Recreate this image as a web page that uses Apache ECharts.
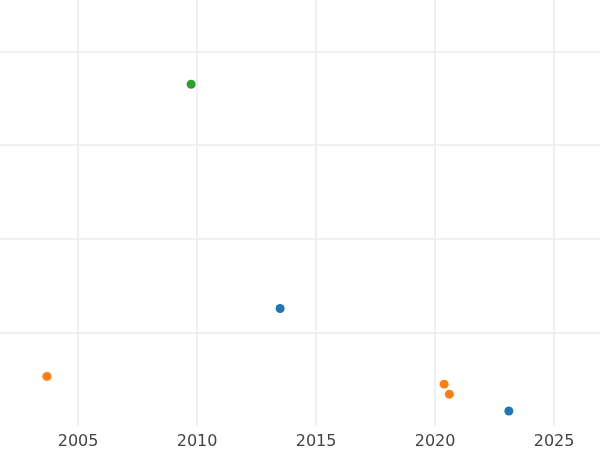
<!DOCTYPE html>
<html><head><meta charset="utf-8">
<script src="https://cdn.jsdelivr.net/npm/echarts@6/dist/echarts.min.js"></script>
<style>html,body{margin:0;padding:0;background:#fff}#c{width:600px;height:450px}</style>
</head><body><div id="c"></div>
<script>
const blueX=[2013.49,2023.1], blueY=[1.255,0.16];
const orangeX=[2003.69,2020.38,2020.6], orangeY=[0.53,0.447,0.34];
const greenX=[2009.75], greenY=[3.65];
const xTicks=[2005,2010,2015,2020,2025];
const zip=(a,b)=>a.map((v,i)=>[v,b[i]]);
const chart=echarts.init(document.getElementById('c'));
const mk=(x,y,c)=>({type:'scatter',data:zip(x,y),symbolSize:9,z:5,itemStyle:{color:c,opacity:1}});
chart.setOption({
  animation:false,
  grid:{left:0,right:0,top:0,bottom:22},
  xAxis:{type:'value',min:2001.72,max:2026.93,
    axisLine:{show:false},axisTick:{show:false},
    axisLabel:{color:'#444',fontSize:16,fontFamily:'DejaVu Sans',
      customValues:xTicks,formatter:v=>String(v)},
    splitLine:{show:false}},
  yAxis:{type:'value',min:0,max:4.55,interval:1,
    axisLine:{show:false},axisTick:{show:false},axisLabel:{show:false},
    splitLine:{show:true,showMinLine:false,showMaxLine:false,lineStyle:{color:'#ebebeb',width:1.5}}},
  series:[
    {type:'scatter',data:[],silent:true,
     markLine:{silent:true,symbol:'none',label:{show:false},
       lineStyle:{color:'#ebebeb',width:1.5,type:'solid'},
       data:xTicks.map(v=>({xAxis:v}))}},
    mk(blueX,blueY,'#1f77b4'),mk(orangeX,orangeY,'#ff7f0e'),mk(greenX,greenY,'#2ca02c')]
});
</script></body></html>
